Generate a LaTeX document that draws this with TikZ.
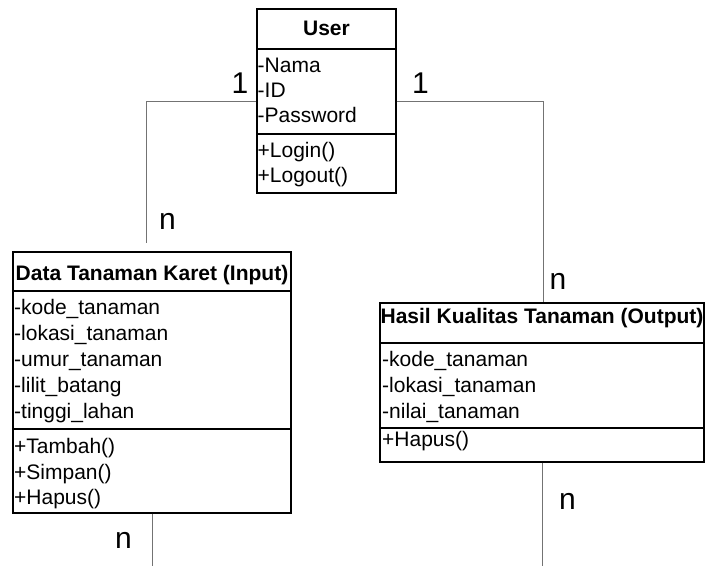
\documentclass[tikz,border=0pt]{standalone}
\usepackage{fontspec}
\setmainfont{Liberation Sans}
\begin{document}
\begin{tikzpicture}[x=1pt,y=-1pt,
 cls/.style={draw=black,line width=1.4pt,rectangle,inner sep=0pt,fill=white},
 sepline/.style={draw=black,line width=1.4pt},
 conn/.style={draw=black!55,line width=0.9pt},
 ttl/.style={font=\bfseries\fontsize{21}{25}\selectfont,anchor=base,inner sep=0pt},
 itm/.style={font=\fontsize{21}{25}\selectfont,anchor=base west,inner sep=0pt},
 mult/.style={font=\fontsize{30}{36}\selectfont,anchor=base,inner sep=0pt}]
\useasboundingbox (0,0) rectangle (705,566);

% class boxes
\node[cls,minimum width=139pt,minimum height=184pt] (User) at (326.5,101) {};
\node[cls,minimum width=278pt,minimum height=261pt] (Data) at (152,382.5) {};
\node[cls,minimum width=324pt,minimum height=159pt] (Hasil) at (542,382.5) {};

% separators
\draw[sepline] (User.west |- 0,49) -- (User.east |- 0,49);
\draw[sepline] (User.west |- 0,134) -- (User.east |- 0,134);
\draw[sepline] (Data.west |- 0,291) -- (Data.east |- 0,291);
\draw[sepline] (Data.west |- 0,429) -- (Data.east |- 0,429);
\draw[sepline] (Hasil.west |- 0,343) -- (Hasil.east |- 0,343);
\draw[sepline] (Hasil.west |- 0,428) -- (Hasil.east |- 0,428);

% User texts
\node[ttl] (uT) at (326.5,35) {User};
\node[itm] (u1) at (257.5,72.5) {-Nama};
\node[itm] (u2) at (257.5,97) {-ID};
\node[itm] (u3) at (257.5,122) {-Password};
\node[itm] (u4) at (257.5,157.5) {+Login()};
\node[itm] (u5) at (257.5,182.5) {+Logout()};

% Data texts
\node[ttl] (dT) at (152,280) {Data Tanaman Karet (Input)};
\node[itm] (d1) at (14,314) {-kode\_tanaman};
\node[itm] (d2) at (14,340) {-lokasi\_tanaman};
\node[itm] (d3) at (14,366) {-umur\_tanaman};
\node[itm] (d4) at (14,392) {-lilit\_batang};
\node[itm] (d5) at (14,418) {-tinggi\_lahan};
\node[itm] (d6) at (14,453) {+Tambah()};
\node[itm] (d7) at (14,479) {+Simpan()};
\node[itm] (d8) at (14,504) {+Hapus()};

% Hasil texts
\node[ttl] (hT) at (542,323) {Hasil Kualitas Tanaman (Output)};
\node[itm] (h1) at (382,366) {-kode\_tanaman};
\node[itm] (h2) at (382,392) {-lokasi\_tanaman};
\node[itm] (h3) at (382,418) {-nilai\_tanaman};
\node[itm] (h4) at (382,446) {+Hapus()};

% connectors
\coordinate (dEnd) at (152,566);
\coordinate (hEnd) at (542,566);
\draw[conn] (User.west) -| ([xshift=134pt,yshift=8pt]Data.north west);
\draw[conn] (User.east) -| ([xshift=164pt]Hasil.north west);
\draw[conn] (Data.south) -- (dEnd);
\draw[conn] (Hasil.south) -- (hEnd);

% multiplicities
\node[mult] (m1) at (240,93) {1};
\node[mult] (m2) at (420.5,93) {1};
\node[mult] (m3) at (167.5,229) {n};
\node[mult] (m4) at (558,289) {n};
\node[mult] (m5) at (567.5,509) {n};
\node[mult] (m6) at (123.5,548) {n};
\end{tikzpicture}
\end{document}
